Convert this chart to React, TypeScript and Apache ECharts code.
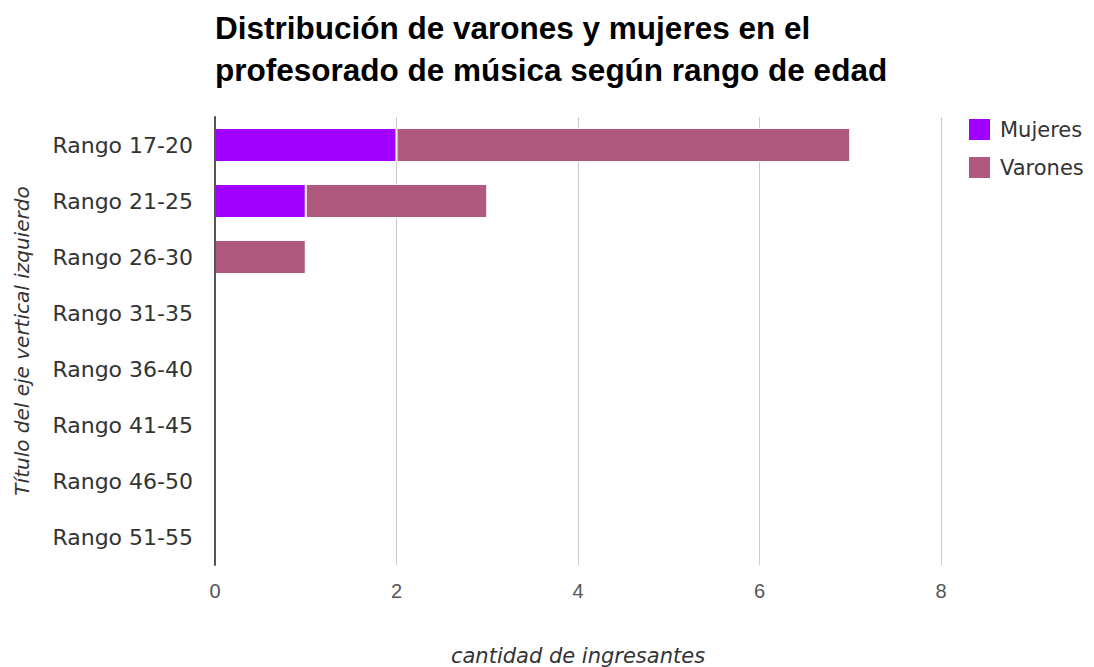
import React, { useEffect, useRef } from "react";
import * as echarts from "echarts";

const categories = [
  "Rango 17-20",
  "Rango 21-25",
  "Rango 26-30",
  "Rango 31-35",
  "Rango 36-40",
  "Rango 41-45",
  "Rango 46-50",
  "Rango 51-55",
];
const mujeres = [2, 1, 0, 0, 0, 0, 0, 0];
const varones = [5, 2, 1, 0, 0, 0, 0, 0];
const xTicks = [0, 2, 4, 6, 8];

const FONT = "'Liberation Sans', Arial, sans-serif";
const WIDE = "'DejaVu Sans', sans-serif";

export default function App() {
  const ref = useRef<HTMLDivElement>(null);
  useEffect(() => {
    if (!ref.current) return;
    const chart = echarts.init(ref.current, undefined, { renderer: "svg" });
    chart.setOption({
      animation: false,
      backgroundColor: "#ffffff",
      title: {
        text: "Distribución de varones y mujeres en el\nprofesorado de música según rango de edad",
        left: 215,
        top: 7,
        padding: 0,
        textStyle: {
          fontFamily: FONT,
          fontSize: 31.5,
          fontWeight: "bold",
          color: "#000000",
          lineHeight: 42,
        },
      },
      legend: {
        orient: "vertical",
        left: 967,
        top: 117,
        padding: 0,
        itemWidth: 23,
        itemHeight: 23,
        itemGap: 13,
        icon: "rect",
        textStyle: { fontFamily: WIDE, fontSize: 21, color: "#333333", padding: [0, 0, 0, 4] },
        data: ["Mujeres", "Varones"],
      },
      grid: {
        left: 215,
        right: 153,
        top: 117,
        bottom: 102,
        containLabel: false,
        outerBoundsMode: "none",
      },
      xAxis: {
        type: "value",
        min: xTicks[0],
        max: xTicks[xTicks.length - 1],
        interval: 2,
        name: "cantidad de ingresantes",
        nameLocation: "middle",
        nameGap: 80,
        nameTextStyle: { fontFamily: WIDE, fontSize: 21, fontStyle: "italic", color: "#333333" },
        axisLine: { show: false },
        axisTick: { show: false },
        axisLabel: { fontFamily: FONT, fontSize: 20, color: "#555555", margin: 16 },
        splitLine: { show: true, lineStyle: { color: "#cccccc", width: 1 } },
      },
      yAxis: {
        type: "category",
        data: categories,
        inverse: true,
        z: 5,
        name: "Título del eje vertical izquierdo",
        nameLocation: "middle",
        nameGap: 183,
        nameRotate: 90,
        nameTextStyle: { fontFamily: WIDE, fontSize: 20, fontStyle: "italic", color: "#333333" },
        axisLine: { show: true, lineStyle: { color: "#555555", width: 2 } },
        axisTick: { show: false },
        axisLabel: { fontFamily: WIDE, fontSize: 22, color: "#333333", margin: 22 },
        splitLine: { show: false },
      },
      series: [
        {
          name: "Mujeres",
          type: "bar",
          stack: "total",
          barWidth: 34,
          data: mujeres,
          itemStyle: { color: "#a100ff", borderColor: "#ffffff", borderWidth: 1 },
        },
        {
          name: "Varones",
          type: "bar",
          stack: "total",
          barWidth: 34,
          data: varones,
          itemStyle: { color: "#b0597f", borderColor: "#ffffff", borderWidth: 1 },
        },
      ],
    });
    return () => chart.dispose();
  }, []);
  return (
    <div
      ref={ref}
      style={{ position: "absolute", left: 0, top: 0, width: 1094, height: 667 }}
    />
  );
}
